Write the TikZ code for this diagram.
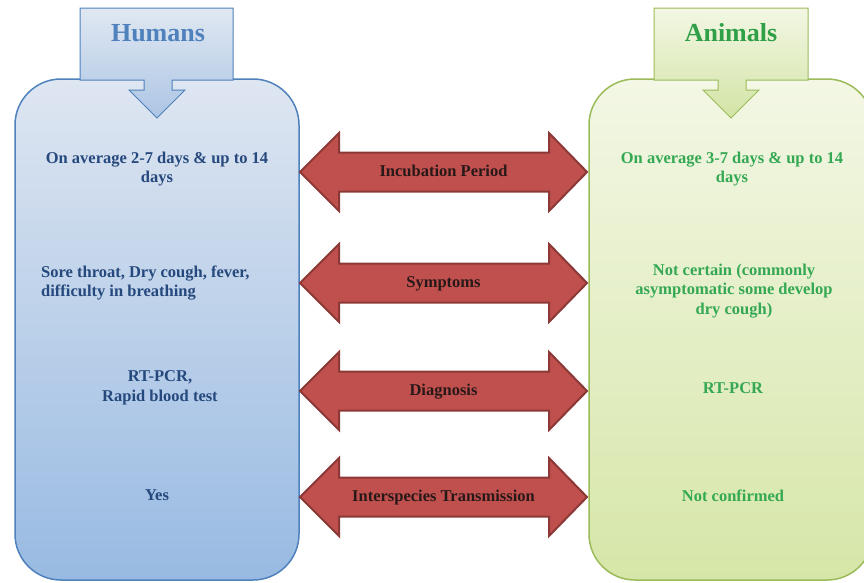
\documentclass[tikz,border=0pt]{standalone}
\usepackage{fontspec}
\setmainfont{Liberation Serif}
\definecolor{hTop}{RGB}{222,230,241}
\definecolor{hBot}{RGB}{152,186,226}
\definecolor{hLine}{RGB}{79,129,189}
\definecolor{hText}{RGB}{37,72,125}
\definecolor{hTitle}{RGB}{79,129,189}
\definecolor{hcTop}{RGB}{224,232,242}
\definecolor{hcBot}{RGB}{172,197,228}
\definecolor{aTop}{RGB}{243,247,229}
\definecolor{aBot}{RGB}{214,230,168}
\definecolor{aLine}{RGB}{155,187,89}
\definecolor{aText}{RGB}{52,168,83}
\definecolor{aTitle}{RGB}{48,160,72}
\definecolor{acTop}{RGB}{243,247,228}
\definecolor{acBot}{RGB}{210,228,165}
\definecolor{redFill}{RGB}{192,80,77}
\definecolor{redLine}{RGB}{140,56,54}
\definecolor{labText}{RGB}{40,24,24}
\tikzset{
  txt/.style={font=\bfseries\fontsize{16.5}{19.8}\selectfont, align=center, inner sep=0pt},
  htxt/.style={txt, text=hText},
  atxt/.style={txt, text=aText},
  ttl/.style={font=\bfseries\fontsize{26}{30}\selectfont, inner sep=0pt},
  arrlabel/.style={txt, text=labText, text height=12pt, text depth=3.5pt},
  redarrow/.style={fill=redFill, draw=redLine, line width=2pt, line join=miter},
}
\begin{document}
\begin{tikzpicture}[x=1pt,y=-1pt]
\useasboundingbox (0,0) rectangle (864,582);
% main boxes
\path[top color=hTop, bottom color=hBot, draw=hLine, line width=1.5pt, rounded corners=46pt]
  (15,79) rectangle (299,580);
\path[top color=aTop, bottom color=aBot, draw=aLine, line width=1.5pt, rounded corners=46pt]
  (589,79) rectangle (873,580);
% callouts
\path[top color=hcTop, bottom color=hcBot, draw=hLine, line width=1pt, line join=miter]
  (80,8) -- (233,8) -- (233,80) -- (172,80) -- (172,90) -- (185,90) -- (157,118)
  -- (129,90) -- (144,90) -- (144,80) -- (80,80) -- cycle;
\path[top color=acTop, bottom color=acBot, draw=aLine, line width=1pt, line join=miter]
  (654,8) -- (808,8) -- (808,80) -- (746,80) -- (746,90) -- (759,90) -- (731,118)
  -- (703,90) -- (718,90) -- (718,80) -- (654,80) -- cycle;
\node[ttl, text=hTitle] (humans) at (158,33) {Humans};
\node[ttl, text=aTitle] (animals) at (731,33) {Animals};
% double arrows
\foreach \c/\t/\n in {172/Incubation Period/inc, 283/Symptoms/sym, 391/Diagnosis/dia, 497/Interspecies Transmission/int}{
  \path[redarrow] (300,\c) -- (339,\c-39) -- (339,\c-19.5) -- (549,\c-19.5) -- (549,\c-39)
    -- (587,\c) -- (549,\c+39) -- (549,\c+19.5) -- (339,\c+19.5) -- (339,\c+39) -- cycle;
  \node[arrlabel] (\n) at (443.5,\c) {\t};
}
% human texts
\node[htxt] (h1) at (157,169) {On average 2-7 days \& up to 14\\days};
\node[htxt, align=left, anchor=west] (h2) at (41,283) {Sore throat, Dry cough, fever,\\difficulty in breathing};
\node[htxt] (h3) at (160,388) {RT-PCR,\\Rapid blood test};
\node[htxt] (h4) at (157,495) {Yes};
% animal texts
\node[atxt] (a1) at (732,169) {On average 3-7 days \& up to 14\\days};
\node[atxt] (a2) at (734,291) {Not certain (commonly\\asymptomatic some develop\\dry cough)};
\node[atxt] (a3) at (733,388) {RT-PCR};
\node[atxt] (a4) at (733,496) {Not confirmed};
\end{tikzpicture}
\end{document}
